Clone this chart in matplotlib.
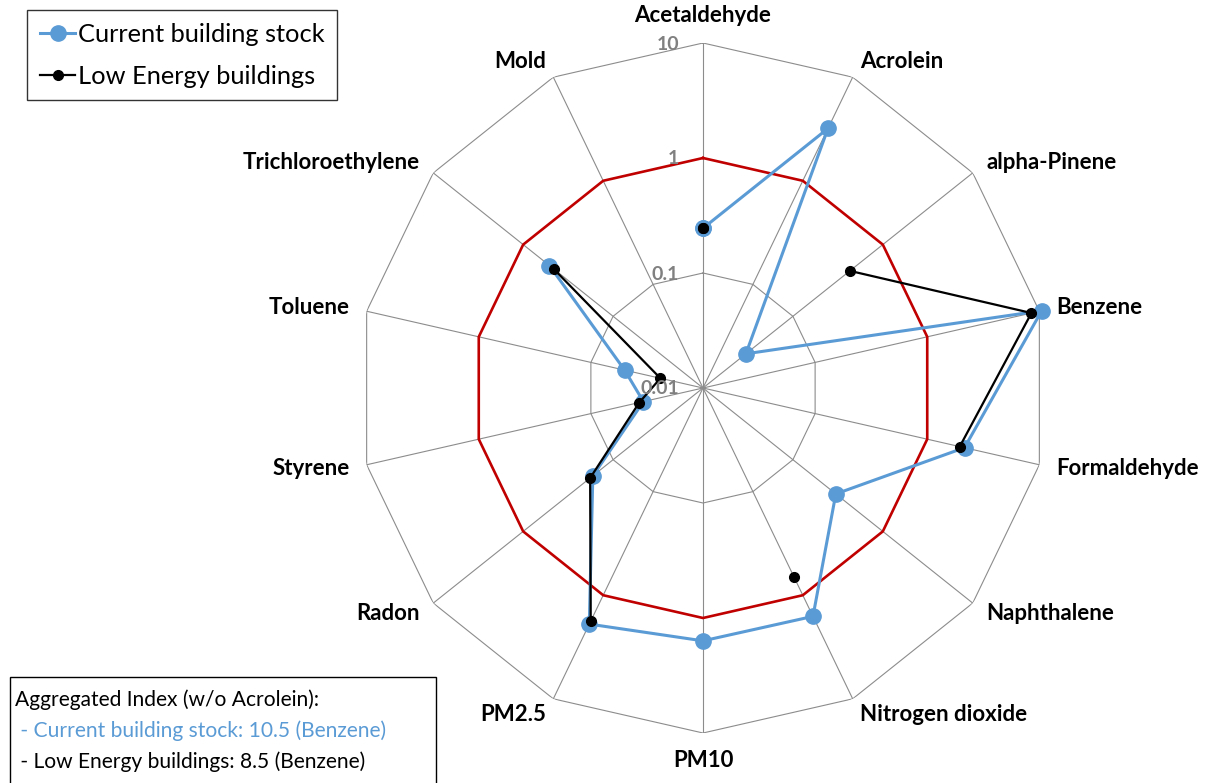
import numpy as np
import matplotlib

matplotlib.use("Agg")
import matplotlib.pyplot as plt
from matplotlib.lines import Line2D
from matplotlib.patches import Rectangle

plt.rcParams["font.family"] = ["Lato", "DejaVu Sans"]

categories = [
    "Acetaldehyde", "Acrolein", "alpha-Pinene", "Benzene", "Formaldehyde",
    "Naphthalene", "Nitrogen dioxide", "PM10", "PM2.5", "Radon",
    "Styrene", "Toluene", "Trichloroethylene", "Mold",
]
# hazard index per pollutant, nan where no value exists
current_stock = [0.245, 3.2, 0.030, 10.5, 2.15, 0.30, 1.6, 1.58, 1.9, 0.168,
                 0.034, 0.050, 0.51, np.nan]
low_energy = [0.245, np.nan, 0.43, 8.5, 1.95, np.nan, 0.66, np.nan, 1.78, 0.18,
              0.037, 0.024, 0.46, np.nan]
threshold = 1.0
ring_values = [0.01, 0.1, 1, 10]
ring_labels = ["0.01", "0.1", "1", "10"]

BLUE = "#5B9BD5"
RED = "#C00000"
GRID = "#8C8C8C"

W, H = 1205, 783
cx, cy, R = 703, 388, 345

fig = plt.figure(figsize=(W / 100, H / 100), dpi=100)
ax = fig.add_axes([(cx - R) / W, (H - cy - R) / H, 2 * R / W, 2 * R / H], projection="polar")
ax.set_theta_zero_location("N")
ax.set_theta_direction(-1)
ax.set_rscale("log")
ax.set_rlim(ring_values[0], ring_values[-1])
ax.grid(False)
ax.spines["polar"].set_visible(False)
ax.set_xticks([])
ax.set_yticks([])
ax.patch.set_visible(False)

n = len(categories)
theta = np.arange(n) * 2 * np.pi / n
theta_closed = np.append(theta, theta[0])

# spokes and polygon rings
for t in theta:
    ax.plot([t, t], [ring_values[0], ring_values[-1]], color=GRID, lw=0.8, zorder=1)
for v in ring_values[1:]:
    if v == threshold:
        continue
    ax.plot(theta_closed, [v] * (n + 1), color=GRID, lw=0.8, zorder=1)
ax.plot(theta_closed, [threshold] * (n + 1), color=RED, lw=1.9, zorder=2)

def closed(vals):
    return np.append(vals, vals[0])

ax.plot(theta_closed, closed(current_stock), color=BLUE, lw=2.2, marker="o",
        ms=11, mfc=BLUE, mec=BLUE, zorder=3, clip_on=False)
ax.plot(theta_closed, closed(low_energy), color="black", lw=1.6, marker="o",
        ms=7, mfc="black", mec="black", zorder=4, clip_on=False)

# ring value labels along the top spoke
for v, lab in zip(ring_values, ring_labels):
    ax.annotate(lab, (0, v), xytext=(-24, -1), textcoords="offset pixels",
                ha="right", va="center", fontsize=14, fontweight="bold",
                color="#808080", zorder=5, annotation_clip=False)

# category labels just outside the outer ring
label_r = ring_values[-1] * 10 ** (17 / 115)
for t, name in zip(theta, categories):
    s, c = np.sin(t), np.cos(t)
    ha = "center" if abs(s) < 0.1 else ("left" if s > 0 else "right")
    if c > 0.95:
        va = "bottom"
    elif c < -0.95:
        va = "top"
    else:
        va = "center"
    ax.text(t, label_r, name, ha=ha, va=va, fontsize=16, fontweight="bold",
            color="black", clip_on=False)

handles = [
    Line2D([], [], color=BLUE, lw=2.2, marker="o", ms=11, mfc=BLUE, mec=BLUE),
    Line2D([], [], color="black", lw=1.6, marker="o", ms=7, mfc="black", mec="black"),
]
leg = fig.legend(handles, ["Current building stock", "Low Energy buildings"],
                 loc="upper left", bbox_to_anchor=(27 / W, 1 - 10 / H),
                 fontsize=18.3, frameon=True, fancybox=False, handlelength=1.4,
                 handletextpad=0.1, borderpad=0.5, labelspacing=0.75,
                 borderaxespad=0)
leg.get_frame().set_edgecolor("black")
leg.get_frame().set_linewidth(1.0)

# aggregated index box
fig.patches.append(Rectangle((10 / W, -0.02), 426 / W, (H - 677) / H + 0.02,
                             transform=fig.transFigure, fill=False,
                             edgecolor="black", lw=1.0))
fig.text(15 / W, 1 - 700 / H, "Aggregated Index (w/o Acrolein):",
         fontsize=15.1, va="center", ha="left")
fig.text(15 / W, 1 - 731 / H, " - Current building stock: 10.5 (Benzene)",
         fontsize=15.1, va="center", ha="left", color=BLUE)
fig.text(15 / W, 1 - 762 / H, " - Low Energy buildings: 8.5 (Benzene)",
         fontsize=15.1, va="center", ha="left")

fig.savefig("out.png", dpi=100)
